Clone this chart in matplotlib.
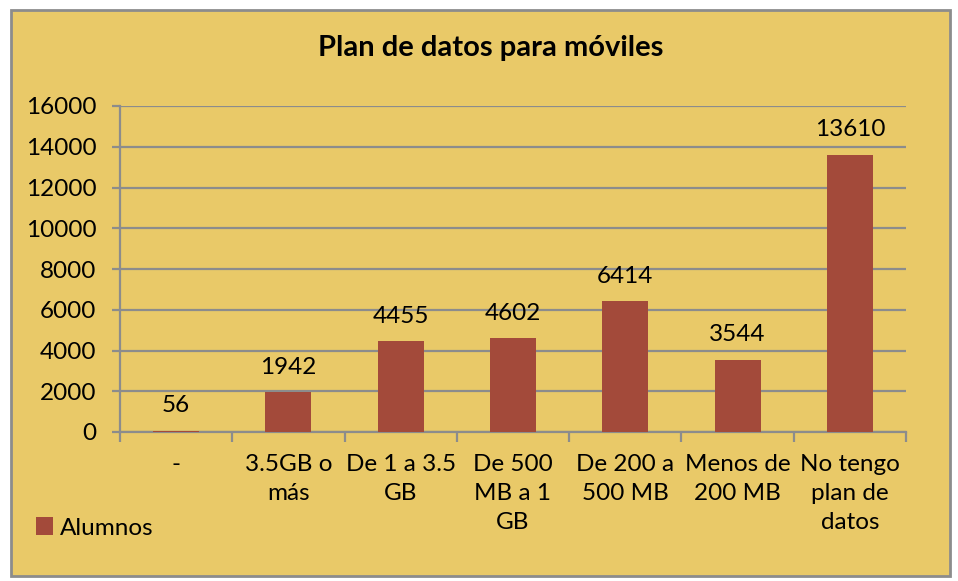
import matplotlib
matplotlib.use("Agg")
import matplotlib.pyplot as plt
from matplotlib.patches import Rectangle, Patch

categories = ["-", "3.5GB o\nmás", "De 1 a 3.5\nGB", "De 500\nMB a 1\nGB",
              "De 200 a\n500 MB", "Menos de\n200 MB", "No tengo\nplan de\ndatos"]
values = [56, 1942, 4455, 4602, 6414, 3544, 13610]
yticks = [0, 2000, 4000, 6000, 8000, 10000, 12000, 14000, 16000]
title = "Plan de datos para móviles"
series_name = "Alumnos"

BG = "#E9C968"
BAR = "#A34A3A"
GRID = "#8C8C8C"
FS = 17.5

plt.rcParams['font.family'] = ['Lato', 'DejaVu Sans']

W, H = 958, 581
fig = plt.figure(figsize=(W/100, H/100), dpi=100)
fig.patch.set_facecolor("white")
bg = fig.add_axes([0, 0, 1, 1], zorder=-5)
bg.set_axis_off()
bg.set_xlim(0, W)
bg.set_ylim(H, 0)
bg.add_patch(Rectangle((11, 10), 950-11, 576-10, facecolor=BG,
                       edgecolor="#8C8C8C", linewidth=2))

ax = fig.add_axes([120/W, 1-432/H, (906-120)/W, (432-106)/H], zorder=1)
ax.set_facecolor("none")
x = list(range(len(categories)))
ax.bar(x, values, width=0.41, color=BAR, zorder=3)
ax.set_xlim(-0.5, len(categories)-0.5)
ax.set_ylim(0, 16000)
ax.set_yticks(yticks)
ax.set_yticklabels([str(v) for v in yticks], fontsize=FS)
ax.yaxis.grid(True, color=GRID, linewidth=1.6, zorder=1)
ax.set_axisbelow(True)
for s in ["top", "right"]:
    ax.spines[s].set_visible(False)
for s in ["left", "bottom"]:
    ax.spines[s].set_color(GRID)
    ax.spines[s].set_linewidth(1.6)
ax.tick_params(axis="y", length=6, width=1.6, color=GRID, pad=11)
ax.set_xticks([i - 0.5 for i in range(len(categories)+1)], minor=False)
ax.set_xticklabels([])
ax.tick_params(axis="x", length=7, width=1.6, color=GRID, direction="out")
ax.set_xticks(x, minor=True)
ax.set_xticklabels(categories, minor=True, fontsize=FS, linespacing=1.45, va="top")
ax.tick_params(axis="x", which="minor", length=0, pad=16)

for xi, v in zip(x, values):
    ax.annotate(str(v), (xi, v), xytext=(0, 10.5), textcoords="offset points",
                ha="center", va="bottom", fontsize=FS)

fig.text(491/W, 1-48/H, title, ha="center", va="center", fontsize=21, fontweight="bold")
fig.legend(handles=[Patch(facecolor=BAR, label=series_name)], loc="center left",
           bbox_to_anchor=(14/W, 1-528/H), frameon=False, fontsize=FS,
           handlelength=0.7, handleheight=0.7, handletextpad=0.3)

fig.savefig("out.png", dpi=100, facecolor="white")
